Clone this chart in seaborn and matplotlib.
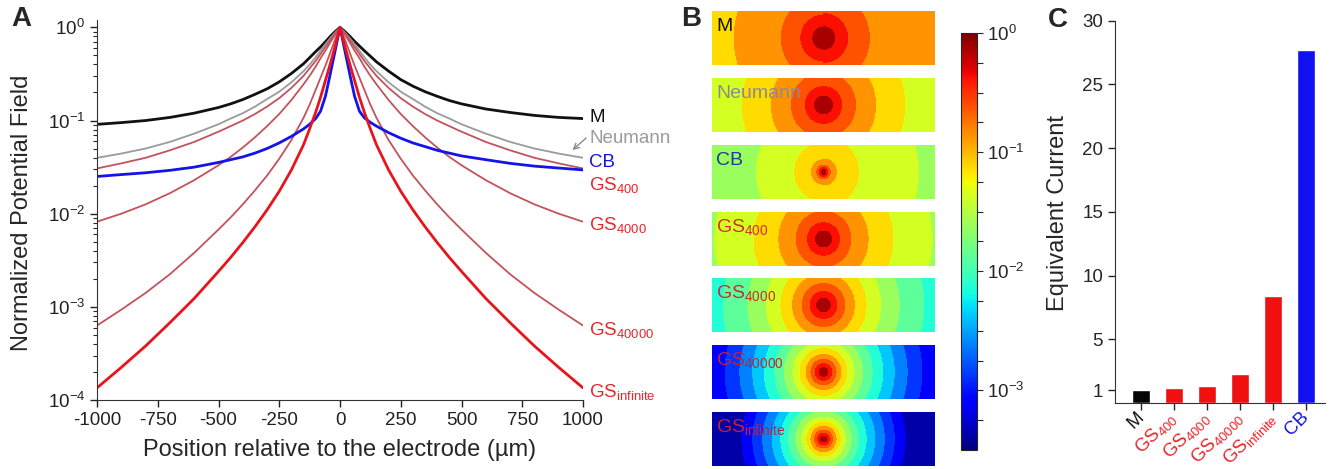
import numpy as np
import pandas as pd
import matplotlib
matplotlib.use("Agg")
import matplotlib.pyplot as plt
import seaborn as sns
from matplotlib.ticker import LogLocator, NullFormatter, FixedLocator, FixedFormatter
import matplotlib.colors as mcolors
import matplotlib.cm as cm

sns.set_style("ticks")
plt.rcParams["font.family"] = ["Liberation Sans", "DejaVu Sans"]
plt.rcParams["mathtext.fontset"] = "custom"
plt.rcParams["mathtext.rm"] = "Liberation Sans"
plt.rcParams["mathtext.it"] = "Liberation Sans:italic"
plt.rcParams["mathtext.bf"] = "Liberation Sans:bold"
plt.rcParams["axes.unicode_minus"] = False

# ---------------- data ----------------
# distance from the electrode (um); profiles are given for the right (+) and left (-) sides
r_um = [0, 20, 40, 60, 80, 100, 125, 150, 200, 250, 300, 350, 400, 450, 500, 600, 700, 800, 900, 1000]

M_right = [1.0, 0.902, 0.804, 0.708, 0.631, 0.562, 0.490, 0.427, 0.339, 0.275, 0.234, 0.204, 0.182, 0.164,
           0.151, 0.133, 0.122, 0.1135, 0.108, 0.105]
M_left = [1.0, 0.902, 0.80, 0.70, 0.617, 0.55, 0.473, 0.407, 0.32, 0.26, 0.219, 0.191, 0.168, 0.151,
          0.138, 0.120, 0.108, 0.100, 0.095, 0.091]
neumann_right = [1.0, 0.881, 0.767, 0.661, 0.562, 0.479, 0.398, 0.339, 0.257, 0.204, 0.170, 0.141, 0.120,
                 0.105, 0.0912, 0.0724, 0.0589, 0.0501, 0.0442, 0.0398]
neumann_left = [1.0, 0.881, 0.767, 0.661, 0.562, 0.479, 0.398, 0.339, 0.257, 0.204, 0.170, 0.141, 0.120,
                0.105, 0.0912, 0.0724, 0.0589, 0.0501, 0.0442, 0.0398]
CB_right = [1.0, 0.562, 0.316, 0.182, 0.126, 0.107, 0.0955, 0.0871, 0.0741, 0.0646, 0.0575, 0.0525, 0.0479,
            0.0447, 0.0417, 0.038, 0.0347, 0.0324, 0.0309, 0.0295]
CB_left = [1.0, 0.562, 0.316, 0.182, 0.126, 0.105, 0.0912, 0.0813, 0.0676, 0.0575, 0.0501, 0.0447, 0.0407,
           0.038, 0.0355, 0.0316, 0.0292, 0.0275, 0.0263, 0.0251]
GS400_right = [1.0, 0.861, 0.733, 0.617, 0.519, 0.437, 0.363, 0.302, 0.224, 0.174, 0.141, 0.1175, 0.1,
               0.0871, 0.0759, 0.0589, 0.0479, 0.0398, 0.0347, 0.0306]
GS400_left = [1.0, 0.861, 0.733, 0.617, 0.519, 0.437, 0.363, 0.302, 0.224, 0.174, 0.141, 0.1175, 0.1,
              0.0871, 0.0759, 0.0589, 0.0479, 0.0398, 0.0347, 0.0306]
GS4000_right = [1.0, 0.832, 0.692, 0.562, 0.468, 0.380, 0.302, 0.245, 0.166, 0.1175, 0.0871, 0.0661, 0.0513,
                0.0407, 0.0331, 0.0229, 0.0166, 0.0126, 0.0100, 0.0082]
GS4000_left = [1.0, 0.832, 0.692, 0.562, 0.468, 0.380, 0.302, 0.245, 0.166, 0.1175, 0.0871, 0.0661, 0.0513,
               0.0407, 0.0331, 0.0229, 0.0166, 0.0126, 0.0100, 0.0082]
GS40000_right = [1.0, 0.741, 0.537, 0.389, 0.288, 0.214, 0.148, 0.107, 0.0617, 0.0389, 0.0257, 0.0178, 0.0126,
                 0.00912, 0.00676, 0.0038, 0.00224, 0.00141, 0.000933, 0.00063]
GS40000_left = [1.0, 0.741, 0.537, 0.389, 0.288, 0.214, 0.148, 0.107, 0.0617, 0.0389, 0.0257, 0.0178, 0.0126,
                0.00912, 0.00676, 0.0038, 0.00224, 0.00141, 0.000933, 0.00063]
GSinf_right = [1.0, 0.631, 0.407, 0.269, 0.178, 0.123, 0.0813, 0.055, 0.0295, 0.0174, 0.011, 0.00724, 0.0049,
               0.00339, 0.0024, 0.00123, 0.000676, 0.00038, 0.000224, 0.000135]
GSinf_left = [1.0, 0.631, 0.407, 0.269, 0.178, 0.123, 0.0813, 0.055, 0.0295, 0.0174, 0.011, 0.00724, 0.0049,
              0.00339, 0.0024, 0.00123, 0.000676, 0.00038, 0.000224, 0.000135]

models_c = ["M", "GS400", "GS4000", "GS40000", "GSinfinite", "CB"]
equiv_current = [1.0, 1.15, 1.35, 2.3, 8.4, 27.7]

tick_x = [-1000, -750, -500, -250, 0, 250, 500, 750, 1000]


def full_profile(left, right):
    """positions from -1000 to 1000 with the matching values (left side mirrored)."""
    pos = [-r for r in r_um[:0:-1]] + list(r_um)
    vals = list(left[:0:-1]) + list(right)
    return np.array(pos, dtype=float), np.array(vals, dtype=float)


# ---------------- figure ----------------
W, H = 1331, 469
fig = plt.figure(figsize=(W / 100, H / 100), dpi=100)


def fx(px):
    return px / W


def fy(py):
    return 1 - py / H


BLACK = "#111111"
GRAY = "#9a9a9a"
BLUE = "#1414e6"
RED = "#e8141c"
THINRED = "#c4525c"
LABRED = "#e8262c"

profiles = {
    "M": full_profile(M_left, M_right),
    "Neumann": full_profile(neumann_left, neumann_right),
    "CB": full_profile(CB_left, CB_right),
    "GS400": full_profile(GS400_left, GS400_right),
    "GS4000": full_profile(GS4000_left, GS4000_right),
    "GS40000": full_profile(GS40000_left, GS40000_right),
    "GSinfinite": full_profile(GSinf_left, GSinf_right),
}

# ---------------- Panel A ----------------
axA = fig.add_axes([fx(97), fy(400), fx(583) - fx(97), fy(20) - fy(400)])
axA.set_yscale("log")
styles = [
    ("M", BLACK, 2.0),
    ("Neumann", GRAY, 1.3),
    ("GS400", THINRED, 1.3),
    ("GS4000", THINRED, 1.3),
    ("GS40000", THINRED, 1.3),
    ("CB", BLUE, 2.0),
    ("GSinfinite", RED, 2.0),
]
for name, col, lw in styles:
    xs, ys = profiles[name]
    sns.lineplot(x=xs, y=ys, ax=axA, color=col, linewidth=lw, estimator=None, sort=False)

axA.set_xlim(-1000, 1000)
axA.set_ylim(1e-4, 1.2)
axA.set_xticks(tick_x)
axA.set_xticklabels([str(t) for t in tick_x])
axA.yaxis.set_major_locator(FixedLocator([1e-4, 1e-3, 1e-2, 1e-1, 1]))
axA.yaxis.set_major_formatter(FixedFormatter([r"$10^{-4}$", r"$10^{-3}$", r"$10^{-2}$", r"$10^{-1}$", r"$10^{0}$"]))
axA.yaxis.set_minor_locator(LogLocator(base=10, subs=np.arange(2, 10)))
axA.yaxis.set_minor_formatter(NullFormatter())
axA.tick_params(axis="both", which="major", direction="out", length=5, width=1, labelsize=13.5, colors="#222222")
axA.tick_params(axis="y", which="minor", direction="out", length=3, width=0.8)
axA.set_xlabel("")
axA.set_ylabel("")
sns.despine(ax=axA)
for s in ["left", "bottom"]:
    axA.spines[s].set_color("#333333")

lab_x = 1025
labels_A = [
    ("M", 0.0958, BLACK),
    ("Neumann", 0.057, GRAY),
    ("CB", 0.0315, BLUE),
    (r"GS$_{400}$", 0.0179, LABRED),
    (r"GS$_{4000}$", 0.00665, LABRED),
    (r"GS$_{40000}$", 0.000497, LABRED),
    (r"GS$_{\mathrm{infinite}}$", 0.0001077, LABRED),
]
for txt, yv, col in labels_A:
    axA.text(lab_x, yv, txt, color=col, fontsize=13.5, va="baseline", ha="left", clip_on=False)
axA.annotate("", xy=(948, 0.046), xytext=(1021, 0.0678),
             arrowprops=dict(arrowstyle="->", color="#8a8a8a", lw=1.0), annotation_clip=False)

fig.text(fx(22), fy(213), "Normalized Potential Field", rotation=90, ha="center", va="center", fontsize=17)
fig.text(fx(340), fy(450), "Position relative to the electrode (\u00b5m)", ha="center", va="center", fontsize=17)

# ---------------- Panel B ----------------
strip_tops = [11, 78, 145, 212, 278, 345, 412]
strip_names = ["M", "Neumann", "CB", "GS400", "GS4000", "GS40000", "GSinfinite"]
strip_labels = [("M", BLACK), ("Neumann", "#8c8c8c"), ("CB", "#1c3aa0"), (r"GS$_{400}$", "#d0302a"),
                (r"GS$_{4000}$", "#c0303a"), (r"GS$_{40000}$", "#c81e3c"), (r"GS$_{\mathrm{infinite}}$", "#c81e3c")]
levels = np.arange(-3.5, 0.001, 0.25)
gx = np.linspace(-1000, 1000, 500)
gy = np.linspace(-240, 240, 130)
GX, GY = np.meshgrid(gx, gy)
R = np.clip(np.sign(GX) * np.sqrt(GX ** 2 + GY ** 2), -1000, 1000)
for top, name, (lab, lcol) in zip(strip_tops, strip_names, strip_labels):
    xs, ys = profiles[name]
    ax = fig.add_axes([fx(712), fy(top + 54), fx(935) - fx(712), fy(top) - fy(top + 54)])
    L = np.interp(R, xs, np.log10(ys))
    L = np.clip(L, -3.499, 0)
    ax.contourf(GX, GY, L, levels=levels, cmap="jet", vmin=-3.5, vmax=0)
    ax.set_xlim(-1000, 1000)
    ax.set_ylim(-240, 240)
    ax.set_axis_off()
    ax.text(0.02, 0.72, lab, transform=ax.transAxes, color=lcol, fontsize=14, va="center", ha="left")

cax = fig.add_axes([fx(961), fy(450), fx(977) - fx(961), fy(33) - fy(450)])
sm = cm.ScalarMappable(norm=mcolors.Normalize(vmin=-3.5, vmax=0), cmap="jet")
cb = fig.colorbar(sm, cax=cax)
cb.set_ticks([0, -1, -2, -3])
cb.set_ticklabels([r"$10^{0}$", r"$10^{-1}$", r"$10^{-2}$", r"$10^{-3}$"])
cax.yaxis.set_minor_locator(FixedLocator(np.arange(-3.25, 0, 0.25)))
cax.tick_params(which="both", length=4, width=0.8, labelsize=13.5, direction="out")
cb.outline.set_linewidth(0.8)

# ---------------- Panel C ----------------
axC = fig.add_axes([fx(1115), fy(403), fx(1325) - fx(1115), fy(20.7) - fy(403)])
bar_colors = {"M": "#050505", "GS400": "#f01010", "GS4000": "#f01010", "GS40000": "#f01010",
              "GSinfinite": "#f01010", "CB": "#1010f0"}
dfc = pd.DataFrame({"model": models_c, "current": equiv_current})
sns.barplot(data=dfc, x="model", y="current", hue="model", palette=bar_colors, legend=False,
            ax=axC, width=0.54, saturation=1)
axC.set_ylim(0, 30)
axC.set_xlim(-0.79, 5.58)
axC.set_yticks([1, 5, 10, 15, 20, 25, 30])
axC.set_xlabel("")
axC.set_ylabel("")
sns.despine(ax=axC)
for s in ["left", "bottom"]:
    axC.spines[s].set_color("#333333")
axC.tick_params(axis="both", direction="out", length=5, width=1, labelsize=13.5)
xt_labels = ["M", r"GS$_{400}$", r"GS$_{4000}$", r"GS$_{40000}$", r"GS$_{\mathrm{infinite}}$", "CB"]
xt_colors = [BLACK, LABRED, LABRED, LABRED, LABRED, BLUE]
axC.set_xticks(range(len(models_c)))
axC.set_xticklabels(xt_labels, rotation=45, ha="right", va="center", rotation_mode="anchor", fontsize=13.5)
for t, c in zip(axC.get_xticklabels(), xt_colors):
    t.set_color(c)
fig.text(fx(1058), fy(213), "Equivalent Current", rotation=90, ha="center", va="center", fontsize=17)

# panel letters
for letter, px, py in [("A", 21, 19), ("B", 691, 19), ("C", 1058, 20)]:
    fig.text(fx(px), fy(py), letter, fontsize=20, fontweight="bold", ha="center", va="center")

fig.savefig("out.png", dpi=100)
